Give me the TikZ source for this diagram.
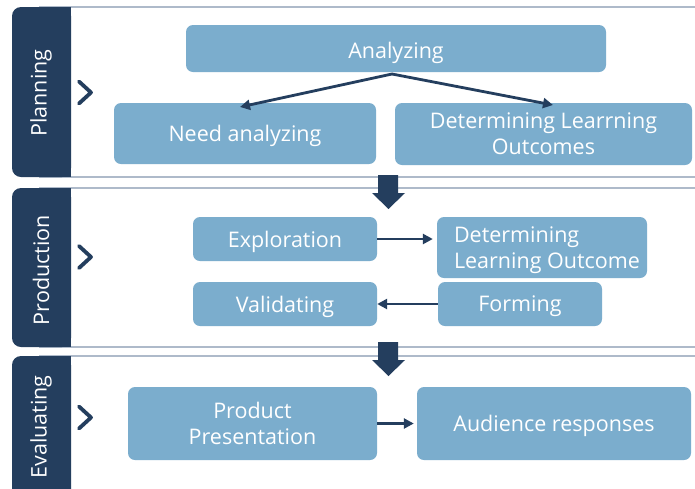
\documentclass[tikz,border=0pt]{standalone}
\usepackage{fontspec}
\setmainfont{Open Sans}
\usetikzlibrary{arrows.meta}
\definecolor{navy}{HTML}{243E5E}
\definecolor{boxblue}{HTML}{7BADCD}
\definecolor{linegray}{HTML}{AEBACA}
\begin{document}
\begin{tikzpicture}[x=1pt,y=-1pt,
  font=\fontsize{21.5}{26}\selectfont,
  box/.style={rectangle, rounded corners=7pt, fill=boxblue, text=white, inner sep=0pt, align=center, text depth=0pt},
  conn/.style={draw=navy, line width=2.8pt, -{Triangle[length=10pt,width=10pt]}},
  sidelabel/.style={text=white, rotate=90, inner sep=0pt},
  chev/.style={draw=navy, line width=3.8pt, line cap=round, line join=round},
  panel/.style={draw=linegray, line width=1.2pt, fill=white},
  bigarrow/.style={fill=navy}]
\useasboundingbox (0,0) rectangle (695,488);
\fill[white] (0,0) rectangle (695,488);

% panels
\path[panel] (40,7) rectangle (720,177);
\path[panel] (40,188) rectangle (720,347);
\path[panel] (40,356) rectangle (720,520);
% sidebars
\fill[navy, rounded corners=9pt] (12,7) rectangle (71,177);
\fill[navy] (50,7) rectangle (71,177);
\fill[navy, rounded corners=9pt] (12,188) rectangle (71,347);
\fill[navy] (50,188) rectangle (71,347);
\fill[navy, rounded corners=9pt] (12,356) rectangle (71,520);
\fill[navy] (50,356) rectangle (71,520);

\node[sidelabel] (plan) at (41,93) {Planning};
\node[sidelabel] (prodn) at (41,270) {Production};
\node[sidelabel] (eval) at (41,427) {Evaluating};

% chevrons
\draw[chev] (79,81.5) -- (91,92.5) -- (79,103.5);
\draw[chev] (79,246) -- (91,257) -- (79,268);
\draw[chev] (79,406.5) -- (91,417.5) -- (79,428.5);

% big down arrows
\path[bigarrow] (378,175) -- (398,175) -- (398,193) -- (405,193) -- (388.5,209) -- (372,193) -- (378,193) -- cycle;
\path[bigarrow] (378,342) -- (398,342) -- (398,360) -- (405,360) -- (388.5,376) -- (372,360) -- (378,360) -- cycle;

% Planning boxes
\node[box, minimum width=420pt, minimum height=47pt] (ana) at (396,48.5) {\raisebox{-3pt}{Analyzing}};
\node[box, minimum width=262pt, minimum height=61pt] (need) at (245,133.5) {Need analyzing};
\node[box, minimum width=297pt, minimum height=62pt] (det1) at (543.5,134) {Determining Learrning\\Outcomes};

\coordinate (apex) at (392,74);
\coordinate (tipL) at (240,107);
\coordinate (tipR) at (553,105);
\draw[conn] (apex) -- (tipL);
\draw[conn] (apex) -- (tipR);

% Production boxes
\node[box, minimum width=184pt, minimum height=44pt] (expl) at (285,239) {Exploration};
\node[box, minimum width=210pt, minimum height=61pt, align=left] (det2) at (542,247.5)
  {\hspace*{10pt}Determining\\\hspace*{10pt}Learning Outcome};
\node[box, minimum width=184pt, minimum height=44pt] (valid) at (285,304) {Validating};
\node[box, minimum width=164pt, minimum height=44pt] (form) at (520,304) {Forming};

\draw[conn] (expl.east) -- ([xshift=-4pt]det2.west |- expl.east);
\draw[conn] (form.west) -- (valid.east);

% Evaluating boxes
\node[box, minimum width=249pt, minimum height=73pt] (prod) at (252.5,423.5) {Product\\Presentation};
\node[box, minimum width=274pt, minimum height=73pt] (aud) at (554,423.5) {Audience responses};
\draw[conn, shorten >=3pt] (prod.east) -- (aud.west);
\end{tikzpicture}
\end{document}
